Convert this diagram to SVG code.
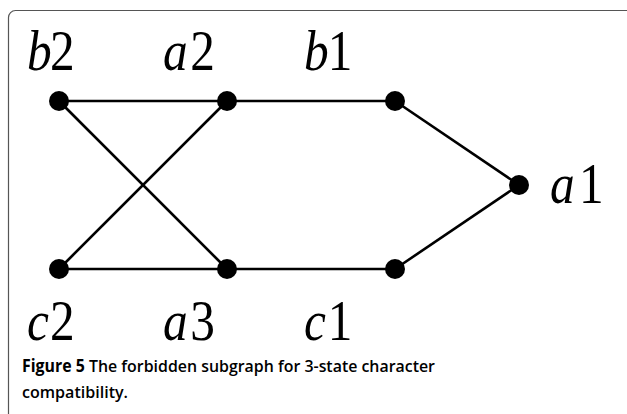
<svg xmlns="http://www.w3.org/2000/svg" width="627" height="414" viewBox="0 0 627 414">
<style>
.edge{stroke:#000;stroke-width:2.6;fill:none}
.node{fill:#000}
.lbl text{font-family:"Liberation Serif",serif;font-size:58px;fill:#000}
.lbl text.v{font-style:italic}
.cap{font-family:"Open Sans","Noto Sans",sans-serif;font-size:17px;fill:#000;font-weight:600}
</style>
<rect x="0" y="0" width="627" height="414" fill="#fff"/>
<rect x="8.5" y="10.5" width="640" height="420" rx="7" ry="7" fill="none" stroke="#555" stroke-width="1.2"/>
<g id="edges">
<line class="edge" x1="59" y1="101" x2="227" y2="101"/>
<line class="edge" x1="227" y1="101" x2="395" y2="101"/>
<line class="edge" x1="395" y1="101" x2="519" y2="185"/>
<line class="edge" x1="395" y1="269" x2="519" y2="185"/>
<line class="edge" x1="59" y1="269" x2="227" y2="269"/>
<line class="edge" x1="227" y1="269" x2="395" y2="269"/>
<line class="edge" x1="59" y1="101" x2="227" y2="269"/>
<line class="edge" x1="227" y1="101" x2="59" y2="269"/>
</g>
<g id="b2"><circle class="node" cx="59" cy="101" r="10"/><g class="lbl" transform="translate(27,70) scale(0.85,1)"><text class="v" x="0" y="0">b</text><text x="27" y="0">2</text></g></g>
<g id="a2"><circle class="node" cx="227" cy="101" r="10"/><g class="lbl" transform="translate(163,70) scale(0.85,1)"><text class="v" x="0" y="0">a</text><text x="32" y="0">2</text></g></g>
<g id="b1"><circle class="node" cx="395" cy="101" r="10"/><g class="lbl" transform="translate(304,70) scale(0.85,1)"><text class="v" x="0" y="0">b</text><text x="28" y="0">1</text></g></g>
<g id="a1"><circle class="node" cx="519" cy="185" r="10"/><g class="lbl" transform="translate(550,203) scale(0.85,1)"><text class="v" x="0" y="0">a</text><text x="34" y="0">1</text></g></g>
<g id="c2"><circle class="node" cx="59" cy="269" r="10"/><g class="lbl" transform="translate(27,340) scale(0.85,1)"><text class="v" x="0" y="0">c</text><text x="27" y="0">2</text></g></g>
<g id="a3"><circle class="node" cx="227" cy="269" r="10"/><g class="lbl" transform="translate(163,340) scale(0.85,1)"><text class="v" x="0" y="0">a</text><text x="32" y="0">3</text></g></g>
<g id="c1"><circle class="node" cx="395" cy="269" r="10"/><g class="lbl" transform="translate(304,340) scale(0.85,1)"><text class="v" x="0" y="0">c</text><text x="28" y="0">1</text></g></g>
<g id="caption">
<text class="cap" x="22" y="372" textLength="413" lengthAdjust="spacingAndGlyphs"><tspan font-weight="700">Figure 5</tspan> The forbidden subgraph for 3-state character</text>
<text class="cap" x="22" y="398" textLength="106" lengthAdjust="spacingAndGlyphs">compatibility.</text>
</g>
</svg>
